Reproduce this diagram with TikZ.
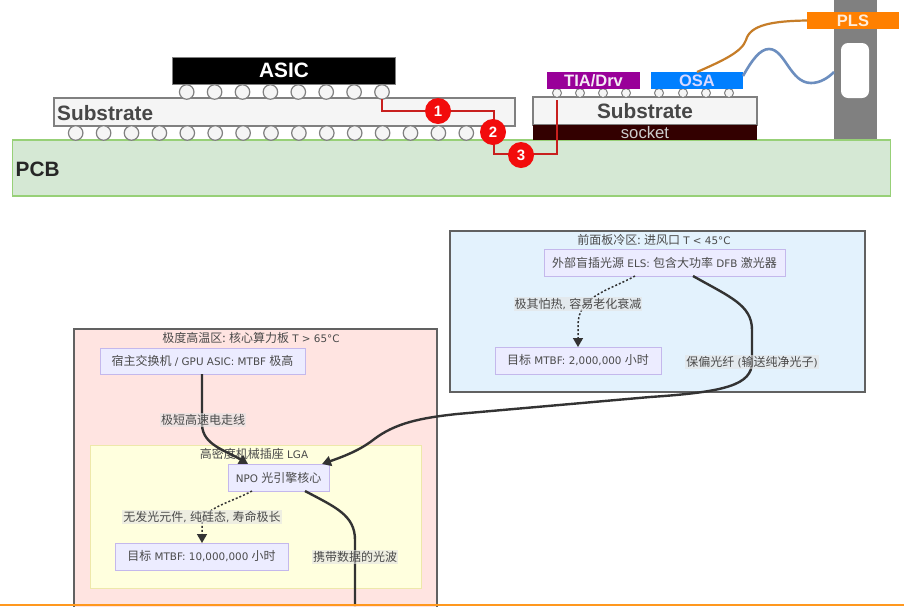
\documentclass[tikz,border=0pt]{standalone}
\usepackage{fontspec}
\setmainfont[Scale=0.865]{DejaVu Sans}
\newfontfamily\cjk{Noto Sans CJK SC}
\newfontfamily\arialb{Liberation Sans}[BoldFont={Liberation Sans Bold}]
\newcommand{\C}[1]{{\cjk #1}}
\usetikzlibrary{arrows.meta}
\definecolor{pcbfill}{HTML}{D5E8D4}
\definecolor{pcbline}{HTML}{97D077}
\definecolor{ballline}{HTML}{808080}
\definecolor{subfill}{HTML}{F5F5F5}
\definecolor{wire}{HTML}{C8201E}
\definecolor{numred}{HTML}{F20C0C}
\definecolor{mnode}{HTML}{ECECFF}
\definecolor{mline}{HTML}{C4B8EC}
\definecolor{edgecol}{HTML}{333333}
\definecolor{txtcol}{HTML}{4A4A4A}
\definecolor{socketfill}{HTML}{330000}
\definecolor{tiafill}{HTML}{990099}
\definecolor{osafill}{HTML}{007FFF}
\definecolor{plsfill}{HTML}{FF8000}
\definecolor{coldfill}{HTML}{E3F2FD}
\definecolor{hotfill}{HTML}{FFE4E1}
\definecolor{lgafill}{HTML}{FFFFDE}
\definecolor{lgaline}{HTML}{EEE8AA}
\definecolor{fibreo}{HTML}{C67D28}
\definecolor{fibreb}{HTML}{6C8EBF}
\definecolor{rulecol}{HTML}{FF981E}
\tikzset{
  x=1pt,y=-1pt,
  box/.style={draw,inner sep=0pt,outer sep=0pt,line width=1pt,anchor=center},
  ballbig/.style={circle,draw=ballline,fill=subfill,line width=1.2pt,minimum size=14.5pt,inner sep=0pt},
  ballsmall/.style={circle,draw=ballline,fill=subfill,line width=1pt,minimum size=9pt,inner sep=0pt},
  substrate/.style={box,draw=ballline,line width=1.2pt,fill=subfill},
  bigtext/.style={font=\arialb\bfseries\fontsize{20.8}{21}\selectfont},
  chiptext/.style={font=\arialb\bfseries\fontsize{16.5}{17}\selectfont},
  num/.style={circle,fill=numred,text=white,minimum size=26pt,inner sep=0pt,font=\arialb\bfseries\fontsize{15}{15}\selectfont},
  wirepath/.style={draw=wire,line width=2pt},
  zone/.style={box,draw=black!62,line width=1.3pt},
  mer/.style={box,draw=mline,fill=mnode,line width=1pt,text=txtcol,font=\fontsize{12}{13}\selectfont},
  ttl/.style={text=txtcol,font=\fontsize{12}{13}\selectfont,inner sep=0pt},
  lab/.style={text=txtcol,fill=gray!22,fill opacity=.6,text opacity=1,inner sep=1pt,font=\fontsize{12}{13}\selectfont},
  solidedge/.style={draw=edgecol,line width=2.4pt},
  dotedge/.style={draw=edgecol,line width=1.5pt,dash pattern=on 2pt off 2pt},
  tip/.style={-{Triangle[length=9pt,width=10pt,fill=edgecol]}},
}
\begin{document}
\begin{tikzpicture}
\useasboundingbox (0,0) rectangle (904,606);
\fill[white] (0,0) rectangle (904,606);
% upper cross-section
\node[box,draw=none,fill=gray,minimum width=43pt,minimum height=140pt] (pillar) at (855.5,70) {};
\node[box,draw=pcbline,line width=1.2pt,fill=pcbfill,minimum width=878pt,minimum height=56pt] (pcb) at (451.5,168) {};
\node[bigtext,anchor=west,text=black!85,inner sep=0pt] (pcbt) at (15.5,169) {PCB};
\node[substrate,minimum width=461pt,minimum height=28pt] (subl) at (284.5,112) {};
\node[bigtext,anchor=west,text=black!72,inner sep=0pt] (sublt) at (57,113) {Substrate};
\node[box,draw=gray,fill=black,text=white,minimum width=223pt,minimum height=27pt,bigtext] (asic) at (284,70.5) {ASIC};
\foreach \i in {0,...,7}{
  \node[ballbig] (ba\i) at ({186.7+27.9*\i},92) {};
}
\foreach \i in {0,...,14}{
  \node[ballbig] (bb\i) at ({75.7+27.9*\i},133) {};
}
\node[substrate,minimum width=224pt,minimum height=28pt,text=black!72,bigtext] (subr) at (645,111) {Substrate};
\node[box,draw=none,fill=socketfill,minimum width=224pt,minimum height=15pt,text=white!80!black,font=\arialb\fontsize{16.7}{16}\selectfont] (socket) at (645,132.5) {socket};
\foreach \i/\x in {0/557,1/580,2/603,3/626}{
  \node[ballsmall] (st\i) at (\x,93) {};
}
\foreach \i/\x in {0/659,1/683,2/706,3/729}{
  \node[ballsmall] (so\i) at (\x,93) {};
}
\node[box,draw=none,fill=tiafill,text=white!92!violet,minimum width=93pt,minimum height=17pt,chiptext] (tia) at (593.5,80.5) {TIA/Drv};
\node[box,draw=none,fill=osafill,text=white!85!blue,minimum width=92pt,minimum height=17pt,chiptext] (osa) at (697,80.5) {OSA};
\node[box,draw=none,fill=white,rounded corners=7pt,minimum width=28pt,minimum height=55pt] (win) at (855,70.5) {};
\node[box,draw=none,fill=plsfill,text=white!85!orange,minimum width=92pt,minimum height=17pt,chiptext] (pls) at (853,20.5) {PLS};
% red route
\coordinate (wstart) at (381.7,99);
\coordinate (wend) at (556.5,100);
\coordinate (wturn) at (494,111);
\coordinate (wbot) at (494,154);
\draw[wirepath] (wstart) |- (wturn) -- (wbot) -| (wend);
\node[num] (n1) at (438,111) {1};
\node[num] (n2) at (493,132) {2};
\node[num] (n3) at (521,155) {3};
% fibres
\coordinate (osatop) at (697,72);
\coordinate (osaright) at (743,76);
\coordinate (pillarleft) at (834,72);
\draw[line width=2.2pt,draw=fibreo] (osatop) .. controls (722,61) and (742,52) .. (746,40) .. controls (750,25) and (772,21) .. (pls.west);
\draw[line width=2.6pt,draw=fibreb] (osaright) .. controls (752,60) and (760,49) .. (769,49) .. controls (785,49) and (790,83) .. (811,83) .. controls (820,83) and (828,78) .. (pillarleft);
% lower zones
\node[zone,fill=coldfill,minimum width=415pt,minimum height=161pt] (cold) at (657.5,311.5) {};
\node[ttl] (coldt) at (654,240) {\C{前面板冷区:}\ \C{进风口} T < 45°C};
\node[mer,minimum width=241pt,minimum height=27pt] (els) at (664.5,262.5) {\C{外部盲插光源} ELS: \C{包含大功率} DFB \C{激光器}};
\node[mer,minimum width=166pt,minimum height=27pt] (tgt1) at (578,360.5) {\C{目标} MTBF: 2,000,000 \C{小时}};
\node[zone,fill=hotfill,minimum width=363pt,minimum height=279pt] (hot) at (255.5,468.5) {};
\node[ttl] (hott) at (251,338) {\C{极度高温区:}\ \C{核心算力板} T > 65°C};
\node[mer,minimum width=205pt,minimum height=26pt] (host) at (202.5,361) {\C{宿主交换机} / GPU ASIC: MTBF \C{极高}};
\node[box,draw=lgaline,fill=lgafill,minimum width=331pt,minimum height=143pt] (lga) at (255.5,516.5) {};
\node[ttl] (lgat) at (254,454) {\C{高密度机械插座} LGA};
\node[mer,minimum width=101pt,minimum height=27pt] (npo) at (278.5,477.5) {NPO \C{光引擎核心}};
\node[mer,minimum width=173pt,minimum height=27pt] (tgt2) at (201.5,556.5) {\C{目标} MTBF: 10,000,000 \C{小时}};
% edges
\coordinate (elsdot) at (635,276);
\coordinate (elsout) at (693,276);
\coordinate (hostout) at (202,374);
\coordinate (npoin) at (248,464);
\coordinate (npoinr) at (322,464);
\coordinate (npodot) at (252,491);
\coordinate (npoout) at (305,491);
\coordinate (pageend) at (355,606);
\coordinate (tgt2top) at (202,543);
\draw[dotedge,tip] (elsdot) .. controls (610,290) and (578,296) .. (578,325) -- (tgt1.north);
\draw[dotedge,tip] (npodot) .. controls (230,503) and (202,508) .. (202,525) -- (tgt2top);
\draw[solidedge,tip] (elsout) .. controls (730,297) and (752,305) .. (752,330) -- (752,362) .. controls (752,385) and (725,392) .. (650,397) -- (457,414) .. controls (420,418) and (395,423) .. (373,440) .. controls (360,450) and (345,456) .. (npoinr);
\draw[solidedge,tip] (hostout) -- (202,425) .. controls (203,445) and (225,450) .. (npoin);
\draw[solidedge] (npoout) .. controls (335,507) and (355,515) .. (355,540) -- (pageend);
% edge labels
\node[lab] (l1) at (578,304) {\C{极其怕热},\ \C{容易老化衰减}};
\node[lab] (l2) at (752,362) {\C{保偏光纤} (\C{输送纯净光子})};
\node[lab] (l3) at (203,420) {\C{极短高速电走线}};
\node[lab] (l4) at (202,517) {\C{无发光元件},\ \C{纯硅态},\ \C{寿命极长}};
\node[lab] (l5) at (355,557) {\C{携带数据的光波}};
% bottom rule
\fill[rulecol] (0,603.5) rectangle (904,606);
\end{tikzpicture}
\end{document}
